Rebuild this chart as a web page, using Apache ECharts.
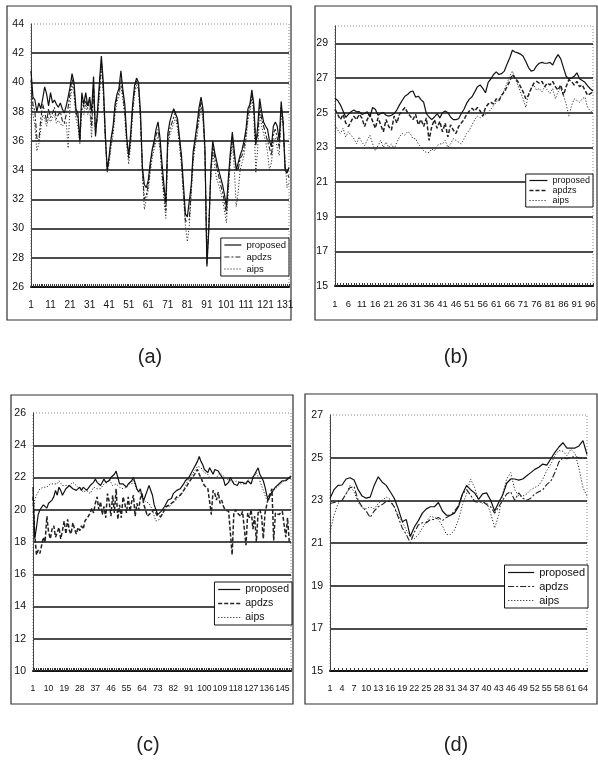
<!DOCTYPE html>
<html><head><meta charset="utf-8">
<script src="https://cdn.jsdelivr.net/npm/echarts@6/dist/echarts.min.js"></script>
<style>html,body{margin:0;padding:0;background:#fff}#c{width:598px;height:765px}</style>
</head><body><div id="c"></div>
<script>
// ---------- data ----------
const seriesNames = ['proposed', 'apdzs', 'aips'];
const captions = ['(a)', '(b)', '(c)', '(d)'];

const aProposed = [40.8,39.0,38.8,38.0,38.6,38.2,38.9,39.7,39.2,38.4,
39.3,38.6,38.8,38.5,38.3,38.6,38.2,37.9,38.4,39.0,
39.7,40.6,40.0,38.2,37.9,36.0,39.3,38.5,39.3,38.4,
39.0,38.0,40.4,36.3,38.0,40.0,41.8,40.0,36.5,34.0,
35.0,36.2,37.0,38.5,39.2,39.6,40.8,39.5,38.5,36.2,
35.0,36.5,38.5,39.8,40.3,40.0,38.0,34.2,33.0,32.8,
33.3,34.5,35.4,36.0,36.8,37.3,36.2,34.5,33.0,31.7,
36.5,37.3,37.8,38.2,38.3,37.5,36.2,35.0,33.0,31.0,
30.8,30.8,33.0,35.3,36.2,37.2,38.3,39.0,38.2,35.5,
27.4,30.0,34.0,36.0,35.2,34.6,34.0,33.5,33.0,32.3,
31.5,33.5,35.2,36.6,35.3,34.0,34.5,35.0,35.4,36.0,
36.8,38.2,38.5,39.5,38.5,35.7,37.0,38.9,38.0,37.3,
37.0,36.8,36.0,35.6,37.0,37.3,37.0,36.0,38.7,37.2,
34.0,33.8,34.2];
const aApdzs = [40.2,38.5,38.0,36.2,36.0,37.5,38.5,38.0,37.3,38.2,
37.6,37.9,38.3,37.5,37.8,38.0,37.4,37.2,37.8,38.3,
39.3,40.3,39.6,38.0,37.5,35.9,38.8,38.3,38.8,38.2,
38.8,37.0,39.8,36.5,37.8,39.5,41.5,39.5,36.3,34.0,
34.8,36.0,36.8,38.2,39.0,39.3,40.2,39.2,38.0,36.0,
34.8,36.2,38.2,39.5,40.1,39.8,37.6,34.0,32.0,32.3,
33.0,34.2,35.2,35.8,36.4,36.8,35.8,34.0,32.5,31.2,
36.0,36.8,37.2,37.6,38.0,37.2,36.0,34.6,32.6,30.5,
30.5,30.6,32.8,35.0,36.0,36.8,37.8,38.7,37.8,35.2,
27.6,30.2,33.8,35.8,34.8,34.2,33.6,33.0,32.5,31.8,
31.0,33.2,35.0,36.3,35.0,34.2,34.0,34.8,35.0,35.6,
36.5,37.8,38.3,39.2,38.2,35.8,36.5,38.5,37.5,37.0,
36.5,36.0,35.5,35.0,36.5,36.8,36.2,35.5,38.3,37.5,
34.2,33.8,33.5];
const aAips = [39.5,37.8,37.0,35.3,35.8,36.8,37.8,37.5,37.0,37.6,
37.3,37.6,37.8,37.2,37.4,37.5,37.0,36.9,37.3,35.5,
38.5,39.8,39.2,37.5,37.0,35.8,38.3,37.8,38.5,37.8,
38.2,36.2,39.2,36.8,37.5,39.0,41.2,39.2,36.0,33.8,
34.5,35.6,36.4,37.8,38.7,39.0,39.8,38.8,37.6,35.6,
34.4,35.8,37.8,39.2,39.8,39.5,37.3,33.8,31.3,32.0,
32.6,33.8,34.8,35.4,36.0,36.3,35.4,33.6,32.0,30.7,
35.6,36.4,36.8,37.2,37.6,36.8,35.6,34.2,32.2,30.2,
29.1,30.2,32.4,34.6,35.6,36.3,37.4,38.3,37.4,35.0,
28.0,30.5,33.4,35.3,34.2,33.4,33.0,32.5,32.0,31.2,
30.4,32.6,34.6,35.8,34.2,31.5,32.5,34.0,34.5,35.0,
36.0,37.4,38.0,39.0,37.8,33.8,35.5,38.0,37.0,36.5,
36.0,35.2,34.0,34.5,35.8,36.2,35.5,35.0,37.8,37.0,
34.5,32.8,33.2];

const bProposed = [25.84,25.70,25.45,25.10,24.73,24.90,25.05,25.15,25.05,25.06,
24.90,24.95,25.05,24.75,25.30,25.20,24.85,24.95,25.00,24.85,
24.80,24.85,24.95,25.15,25.45,25.70,25.95,26.05,26.20,26.25,
25.90,25.95,25.75,25.60,24.95,24.75,24.60,24.75,24.95,24.70,
25.00,25.10,25.00,24.75,24.60,24.60,24.65,24.95,25.20,25.55,
25.78,25.92,26.20,26.50,26.60,26.40,26.15,26.75,26.95,27.20,
27.35,27.20,27.25,27.40,27.80,28.15,28.60,28.50,28.45,28.38,
28.25,27.95,27.60,27.40,27.45,27.70,27.85,27.90,27.85,27.85,
27.90,27.75,28.10,28.35,28.10,27.60,27.10,26.95,27.00,27.10,
27.30,26.95,26.85,26.75,26.55,26.38,26.25];
const bApdzs = [25.20,24.90,24.60,24.90,24.40,24.20,24.50,24.80,24.60,24.90,
24.70,24.20,24.60,24.90,24.50,24.10,24.70,24.30,23.90,24.60,
24.20,24.00,24.80,24.40,24.90,25.10,25.30,25.00,24.80,24.60,
24.90,24.30,24.60,24.20,24.70,23.40,24.20,24.60,24.10,24.50,
23.90,24.40,23.60,24.30,24.00,23.80,24.20,24.40,24.60,24.90,
25.10,25.25,25.10,25.30,25.10,24.80,25.30,25.50,25.60,25.50,
25.80,25.70,26.00,26.20,26.50,26.80,27.20,27.00,26.80,26.50,
26.20,25.80,26.00,26.40,26.70,26.80,26.70,26.80,26.50,26.70,
26.60,26.80,26.50,26.30,26.60,26.00,26.50,26.90,26.80,26.60,
26.80,26.50,26.60,26.30,26.00,26.10,26.20];
const bAips = [24.30,24.00,23.80,24.10,23.60,23.90,23.70,23.50,23.20,23.60,
23.30,23.10,23.40,23.70,23.20,22.80,23.10,23.40,23.00,23.30,
23.00,23.20,22.90,23.30,23.60,23.80,23.70,23.90,23.80,23.50,
23.50,23.20,23.00,22.80,22.70,22.70,22.90,22.80,23.10,23.20,
23.20,23.40,23.00,23.20,23.50,23.40,23.30,23.20,23.50,23.80,
24.00,24.30,24.60,24.80,24.70,24.80,24.90,25.00,25.20,25.40,
25.60,25.80,26.00,26.30,26.70,27.10,27.40,27.00,26.60,26.20,
25.80,25.30,26.10,26.40,26.60,26.30,26.40,26.20,26.50,26.30,
26.10,26.40,25.80,26.20,26.40,26.00,25.50,24.80,25.40,25.80,
25.70,25.60,25.80,25.90,25.30,25.10,25.00];

const cProposed = [21.4,18.2,18.9,19.7,20.0,20.1,20.3,20.3,20.1,20.4,
20.5,20.6,20.8,21.2,20.9,21.4,21.2,20.9,20.8,21.3,
21.4,21.5,21.4,21.3,21.4,21.2,21.3,21.4,21.2,21.4,
21.3,21.2,21.2,21.5,21.4,21.7,21.9,21.7,21.6,21.5,
21.7,21.9,21.7,21.6,21.8,22.0,22.1,22.2,22.4,22.0,
21.6,21.5,21.6,21.5,21.4,21.6,21.7,21.8,22.0,21.9,
21.3,21.1,21.3,20.8,20.6,20.9,21.2,21.5,21.4,20.9,
20.3,20.0,19.7,19.8,19.9,20.0,20.2,20.4,20.6,20.6,
20.7,21.0,21.1,21.2,21.3,21.3,21.4,21.6,21.8,21.9,
22.0,22.2,22.3,22.6,22.8,23.0,23.3,23.0,22.8,22.5,
22.5,22.3,22.6,22.4,22.2,22.5,22.4,22.4,22.2,22.1,
21.9,21.5,21.4,21.7,22.0,21.8,21.6,21.6,21.5,21.7,
21.8,21.7,21.8,21.6,21.8,21.9,21.6,22.0,22.2,22.4,
22.6,22.2,22.0,21.8,21.4,20.9,20.6,20.9,21.1,21.2,
21.4,21.5,21.6,21.7,21.8,21.8,21.8,21.9,22.0,22.1];
const cApdzs = [20.8,18.5,17.2,17.5,17.3,17.8,18.3,18.0,19.6,18.6,
18.2,18.8,19.0,18.3,18.6,18.9,18.2,18.7,19.3,18.5,
19.4,18.7,18.5,19.2,18.8,18.5,18.9,18.7,19.0,18.8,
19.3,19.2,19.6,19.8,20.1,19.8,20.4,20.8,20.0,20.5,
19.7,20.2,19.5,21.0,20.5,19.6,20.9,19.8,21.3,19.4,
20.3,19.5,20.8,20.4,19.8,20.8,19.9,20.5,20.9,19.6,
20.4,20.0,20.7,21.0,20.3,20.0,19.6,19.7,19.8,19.9,
20.0,20.0,19.6,19.5,19.6,19.8,20.0,20.2,20.1,20.3,
20.3,20.5,20.6,20.8,20.7,20.9,21.0,21.2,21.3,21.5,
21.7,21.8,22.0,22.1,22.3,22.5,22.2,22.0,21.7,21.5,
21.6,21.3,21.4,19.7,21.2,21.0,20.6,21.1,20.4,20.6,
20.2,20.0,20.0,19.9,20.0,17.2,19.8,20.0,19.8,19.9,
19.6,19.9,20.0,17.8,19.8,19.5,20.0,18.8,19.6,18.0,
19.8,20.0,19.6,18.2,19.8,20.3,20.8,21.0,21.3,18.1,
19.8,19.8,19.7,19.8,19.9,19.8,18.3,19.5,18.0,17.9];
const cAips = [19.8,20.6,20.9,21.1,21.3,21.2,21.4,21.5,21.4,21.5,
21.6,21.5,21.6,21.7,21.6,21.8,21.7,21.5,21.4,21.5,
21.4,21.5,21.6,21.7,21.6,21.5,21.4,21.3,21.2,21.1,
21.0,21.2,21.1,21.0,21.2,21.4,21.5,21.3,21.2,21.3,
21.4,21.6,21.5,21.7,21.9,21.7,21.5,21.4,21.6,21.5,
21.4,21.5,21.3,21.2,21.4,21.6,21.5,21.6,21.8,21.5,
21.2,21.3,21.0,20.8,20.7,20.5,20.6,20.4,20.2,20.0,
19.6,19.3,19.2,19.4,19.6,19.8,20.0,20.3,20.2,20.2,
20.4,20.3,20.5,20.6,20.8,20.9,21.0,21.2,21.5,21.7,
21.9,22.0,22.2,22.3,22.5,22.7,22.8,22.6,22.5,22.3,
22.4,22.2,22.0,21.9,22.0,22.1,22.0,22.1,22.3,22.2,
22.1,22.0,21.9,21.8,21.8,21.9,21.7,21.8,21.8,21.7,
21.6,21.7,21.6,21.7,21.8,21.9,22.0,21.9,22.1,22.3,
22.2,21.8,21.5,21.2,20.9,20.6,20.7,20.8,21.0,21.2,
21.3,21.4,21.5,21.6,21.7,21.8,21.8,21.9,21.9,22.0];

const dProposed = [23.1,23.5,23.7,23.72,24.0,24.06,23.95,23.5,23.2,23.1,
23.15,23.7,24.1,23.85,23.7,23.4,23.1,22.6,22.0,22.1,
21.3,21.75,22.05,22.4,22.6,22.7,22.7,22.9,22.5,22.3,
22.3,22.4,22.7,23.3,23.7,23.5,23.35,23.05,23.3,23.35,
23.0,22.5,22.9,23.25,23.8,24.0,24.0,23.95,24.0,24.15,
24.3,24.45,24.55,24.7,24.65,24.95,25.25,25.5,25.7,25.45,
25.45,25.45,25.55,25.8,25.15];
const dApdzs = [22.85,22.9,22.95,23.0,23.3,23.6,23.65,23.0,22.7,22.5,
22.2,22.5,22.7,22.8,22.95,22.95,22.7,22.2,21.7,21.4,
21.0,21.5,21.85,21.95,21.95,22.1,22.1,22.2,22.05,22.2,
22.3,22.5,22.75,23.3,23.5,23.25,22.95,22.9,22.95,22.8,
22.7,22.4,22.7,23.0,23.3,23.4,23.0,23.35,23.1,23.0,
23.1,23.3,23.4,23.5,23.75,23.9,24.3,24.8,25.0,24.95,
25.0,25.05,25.0,24.95,25.0];
const dAips = [21.5,22.3,22.85,23.0,23.3,23.7,23.4,22.9,22.65,22.6,
22.7,22.6,22.85,23.0,23.15,23.05,22.7,22.3,22.0,21.6,
21.3,21.2,21.4,21.7,22.0,22.25,22.2,22.1,21.8,21.4,
21.4,21.6,22.1,22.8,23.3,24.0,23.6,23.0,22.85,22.9,
22.4,21.7,22.3,23.3,24.0,24.3,23.5,23.2,23.2,23.3,
23.5,23.6,23.7,24.0,24.4,24.7,25.1,25.35,25.3,25.1,
25.4,25.2,24.5,23.6,23.2];

// y-axis tick labels
const aYTicks = [26,28,30,32,34,36,38,40,42,44];
const bYTicks = [15,17,19,21,23,25,27,29];
const cYTicks = [10,12,14,16,18,20,22,24,26];
const dYTicks = [15,17,19,21,23,25,27];

// ---------- layout / style ----------
const FONT = "'Liberation Sans',Arial,sans-serif";
const panels = [
  { grid:{left:31, top:24, width:258, height:263}, frame:[7,6,284,314], cap:[150,357],
    y:{min:26, max:44, ticks:aYTicks}, every:10, xfs:10, data:[aProposed,aApdzs,aAips],
    leg:{right:309, top:238, fs:9.5, iw:17, gap:2}, dash:[5,2,2,2], dashW:1.1 },
  { grid:{left:335, top:26, width:258, height:260}, frame:[315,6,282,314], cap:[456,357],
    y:{min:15, max:30, ticks:bYTicks}, every:5, xfs:9.5, data:[bProposed,bApdzs,bAips],
    leg:{right:5, top:174, fs:9, iw:18, gap:1}, dash:[4,2], dashW:1.5 },
  { grid:{left:33, top:413, width:258, height:258}, frame:[11,395,282,309], cap:[148,745],
    y:{min:10, max:26, ticks:cYTicks}, every:9, xfs:8.6, data:[cProposed,cApdzs,cAips],
    leg:{right:306, top:582, fs:10.5, iw:22, gap:3}, dash:[4,2], dashW:1.5 },
  { grid:{left:330, top:415, width:257, height:256}, frame:[305,394,292,310], cap:[456,745],
    y:{min:15, max:27, ticks:dYTicks}, every:3, xfs:9, data:[dProposed,dApdzs,dAips],
    leg:{right:10, top:565, fs:11, iw:26, gap:3}, dash:[6,2,2,2], dashW:1.1 }
];

function styles(p){
  return [
    {color:'#111', width:1.2, type:'solid'},
    {color:'#222', width:p.dashW, type:p.dash},
    {color:'#333', width:1, type:[1.2,1.8]}
  ];
}

const grid=[], xAxis=[], yAxis=[], series=[], legend=[], graphic=[];
panels.forEach((p,k)=>{
  grid.push(Object.assign({outerBoundsMode:'none', containLabel:false}, p.grid));
  const n = p.data[0].length;
  const cats = Array.from({length:n}, (_,i)=>String(i+1));
  xAxis.push({type:'category', gridIndex:k, data:cats, boundaryGap:false,
    axisLine:{onZero:false, lineStyle:{color:'#111', width:2}},
    axisTick:{show:true, interval:0, inside:true, length:3, lineStyle:{color:'#333', width:1}},
    axisLabel:{interval:p.every-1, margin:13, fontSize:p.xfs, color:'#111', fontFamily:FONT, hideOverlap:false},
    splitLine:{show:false}});
  const step = (p.y.min % 2 === 0) ? 2 : 1;
  const ticks = p.y.ticks;
  yAxis.push({type:'value', gridIndex:k, min:p.y.min, max:p.y.max, interval:step,
    axisLine:{show:true, lineStyle:{color:'#444', width:1}},
    axisTick:{show:false},
    axisLabel:{margin:7, fontSize:10.5, color:'#111', fontFamily:FONT, showMaxLabel: ticks.includes(p.y.max),
      formatter:(v)=> ticks.includes(v) ? String(v) : ''},
    splitLine:{show:true, showMinLine:true, showMaxLine:false,
      lineStyle:{color: step===2 ? '#111' : ['#111','rgba(0,0,0,0)'], width:1.5}}});
  const st = styles(p);
  [2,1,0].forEach(j=>{
    series.push({type:'line', name:seriesNames[j], xAxisIndex:k, yAxisIndex:k, data:p.data[j],
      symbol:'none', showSymbol:false, lineStyle:st[j], itemStyle:{color:st[j].color},
      z: 5-j, animation:false, silent:true});
  });
  legend.push({orient:'vertical', right:p.leg.right, top:p.leg.top, itemWidth:p.leg.iw, itemHeight:8,
    itemGap:p.leg.gap, padding:[2,3,2,3], borderColor:'#111', borderWidth:1, backgroundColor:'#fff',
    selectedMode:false, z:10,
    itemStyle:{color:'rgba(0,0,0,0)', borderColor:'rgba(0,0,0,0)', borderWidth:0, opacity:0},
    textStyle:{fontSize:p.leg.fs, fontFamily:FONT, color:'#111'},
    data: seriesNames.map((nm,j)=>({name:nm, lineStyle:st[j],
      itemStyle:{color:'rgba(0,0,0,0)', borderWidth:0, opacity:0}}))
  });
  graphic.push({type:'rect', shape:{x:p.frame[0], y:p.frame[1], width:p.frame[2], height:p.frame[3]},
    style:{fill:null, stroke:'#333', lineWidth:1.2}, silent:true, z:0});
  graphic.push({type:'rect', shape:{x:p.grid.left, y:p.grid.top, width:p.grid.width, height:p.grid.height},
    style:{fill:null, stroke:'#888', lineWidth:1, lineDash:[1,2]}, silent:true, z:0});
  graphic.push({type:'text', x:p.cap[0], y:p.cap[1], silent:true,
    style:{text:captions[k], fontSize:20, fontFamily:FONT, fill:'#222',
      align:'center', verticalAlign:'middle', textAlign:'center', textVerticalAlign:'middle'}});
});

const chart = echarts.init(document.getElementById('c'), null, {renderer:'canvas'});
chart.setOption({animation:false, backgroundColor:'#fff', grid, xAxis, yAxis, series, legend, graphic});
</script></body></html>
